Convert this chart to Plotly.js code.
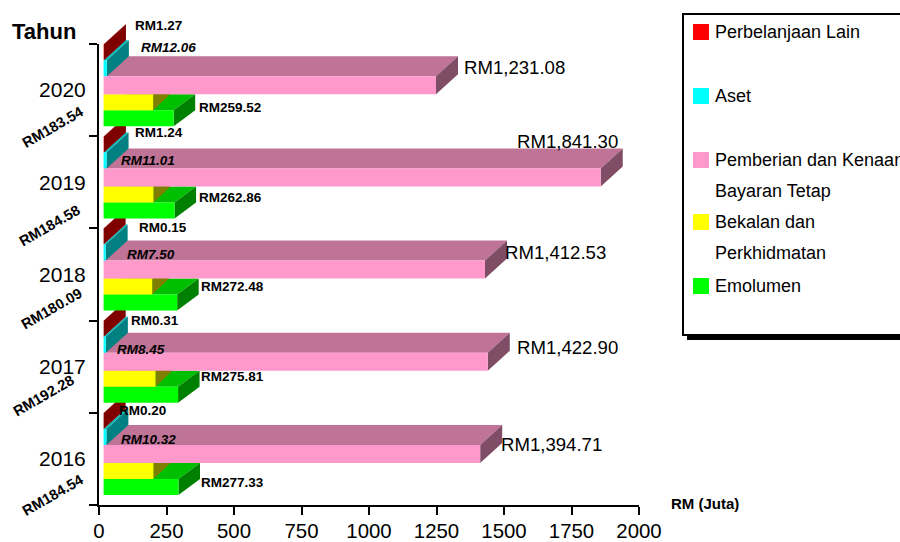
<!DOCTYPE html>
<html><head><meta charset="utf-8">
<script src="https://cdn.plot.ly/plotly-3.0.1.min.js"></script>
<style>html,body{margin:0;padding:0;background:#fff;overflow:hidden}</style>
</head><body><div id="chart" style="width:900px;height:542px"></div>
<script>
const years = ['2016','2017','2018','2019','2020'];
const seriesNames = ['Emolumen','Bekalan dan Perkhidmatan','Pemberian dan Kenaan Bayaran Tetap','Aset','Perbelanjaan Lain'];
const emolumen = [277.33,275.81,272.48,262.86,259.52];
const bekalan = [184.54,192.28,180.09,184.58,183.54];
const pemberian = [1394.71,1422.90,1412.53,1841.30,1231.08];
const aset = [10.32,8.45,7.50,11.01,12.06];
const lain = [0.20,0.31,0.15,1.24,1.27];
const xTicks = [0,250,500,750,1000,1250,1500,1750,2000];

const values = [emolumen,bekalan,pemberian,aset,lain];
const front = ['#00FF00','#FFFF00','#FF99CC','#00FFFF','#FF0000'];
const topFace = ['#00BF00','#BFBF00','#BF7396','#00BFBF','#BF0000'];
const sideFace = ['#008000','#808000','#804D66','#008080','#800000'];

// plot frame in pixels
const L=99,R=639,T=44,B=505,W=900,H=542;
const unit=(R-L)/2000, band=(B-T)/5;
const fx=p=>(p-L)/(R-L), fy=p=>(B-p)/(B-T);
const base=4.6/unit, gap=10/band;
const thick=[16,16,18,16,16].map(t=>t/band);
const depthX=[21.5,17,22,22,22], depthY=[16,16,20,20,20];
const yPos=(i,s)=>i+gap+thick.slice(0,s).reduce((a,b)=>a+b,0);

const traces=values.map((v,s)=>({
  type:'bar',orientation:'h',name:seriesNames[s],
  y:years.map((_,i)=>yPos(i,s)+thick[s]/2),x:v,base:years.map(()=>base),
  width:thick[s],marker:{color:front[s],line:{width:0}},showlegend:false,hoverinfo:'x'
}));

const shapes=[];
const poly=(pts,color)=>shapes.push({type:'path',xref:'x',yref:'paper',layer:'below',
  path:'M'+pts.map(p=>p[0]+','+p[1]).join('L')+'Z',fillcolor:color,line:{width:0}});
values.forEach((v,s)=>v.forEach((val,i)=>{
  const x0=base,x1=base+val,dx=depthX[s]/unit,
        yb=yPos(i,s)/5,yt=(yPos(i,s)+thick[s])/5,dy=depthY[s]/(B-T);
  poly([[x0,yt],[x1,yt],[x1+dx,yt+dy],[x0+dx,yt+dy]],topFace[s]);
  poly([[x1,yb],[x1,yt],[x1+dx,yt+dy],[x1+dx,yb+dy]],sideFace[s]);
}));
// legend box, shadow and swatches
const rect=(x0,y0,x1,y1,fill,line)=>shapes.push({type:'rect',xref:'paper',yref:'paper',
  x0:fx(x0),x1:fx(x1),y0:fy(y0),y1:fy(y1),fillcolor:fill,line:line||{width:0},layer:'above'});
rect(687,20,910,340,'#000');
rect(683,14,910,335,'#fff',{color:'#000',width:2});
const swatchTop=[278,214,152,88,24];
swatchTop.forEach((y,s)=>rect(693,y,709,y+16,front[s]));

const ann=[];
const label=(px,py,text,font,opt)=>ann.push(Object.assign({xref:'paper',yref:'paper',x:fx(px-2),y:fy(py),
  text,showarrow:false,xanchor:'left',yanchor:'middle',font:Object.assign({family:'Liberation Sans, Arial, sans-serif',color:'#000'},font)},opt||{}));
const money=v=>'RM'+v.toLocaleString('en-US',{minimumFractionDigits:2,maximumFractionDigits:2});
const smallBold={size:13.5,weight:700};
const smallIt={size:13.5,weight:700,style:'italic'};
const big={size:18.6};
const greenAt=[[201,482],[201,376],[201,286],[199,198],[199,107]];
const yellowAt=[[55,495],[45,396],[53,309],[51,226],[55,127]];
const pinkAt=[[501,444],[517,347],[505,252],[517,141],[464,67]];
const asetAt=[[121,439],[117,349],[127,254],[121,160],[141,48]];
const lainAt=[[119,410],[131,320],[139,227],[135,132],[135,25]];
years.forEach((_,i)=>{
  label(greenAt[i][0],greenAt[i][1],money(emolumen[i]),smallBold);
  label(yellowAt[i][0],yellowAt[i][1],money(bekalan[i]),{size:14.6,weight:700},{xanchor:'center',textangle:-30});
  label(pinkAt[i][0],pinkAt[i][1],money(pemberian[i]),big);
  label(asetAt[i][0],asetAt[i][1],money(aset[i]),smallIt);
  label(lainAt[i][0],lainAt[i][1],money(lain[i]),smallBold);
});
label(12,31,'Tahun',{size:22,weight:700});
label(671,503,'RM (Juta)',{size:15,weight:700});
const legendLines=[['Perbelanjaan Lain',32],['Aset',96],['Pemberian dan Kenaan',160],['Bayaran Tetap',191],['Bekalan dan',222],['Perkhidmatan',253],['Emolumen',286]];
legendLines.forEach(l=>label(715,l[1],l[0],{size:18}));

const font={family:'Liberation Sans, Arial, sans-serif',size:21,color:'#000'};
const layout={
  width:W,height:H,autosize:false,paper_bgcolor:'#fff',plot_bgcolor:'#fff',
  margin:{l:L,r:W-R,t:T,b:H-B,pad:0},barmode:'overlay',showlegend:false,font,
  xaxis:{range:[0,2000],tickvals:xTicks,ticktext:xTicks.map(String),ticks:'outside',ticklen:8,tickwidth:2,
    showline:true,linewidth:2,linecolor:'#000',tickcolor:'#000',showgrid:false,zeroline:false,tickangle:0,tickfont:{size:20.4},ticklabelstandoff:-1},
  yaxis:{range:[0,5],tickvals:years.map((_,i)=>i+0.5),ticktext:years,ticks:'',showline:true,linewidth:2,linecolor:'#000',
    showgrid:false,zeroline:false,tickfont:{size:21},ticklabelstandoff:7,
    minor:{tickvals:[0,1,2,3,4,5],ticks:'outside',ticklen:8,tickwidth:2,tickcolor:'#000',showgrid:false}},
  shapes,annotations:ann
};
Plotly.newPlot('chart',traces,layout,{displayModeBar:false,staticPlot:true});
</script></body></html>
